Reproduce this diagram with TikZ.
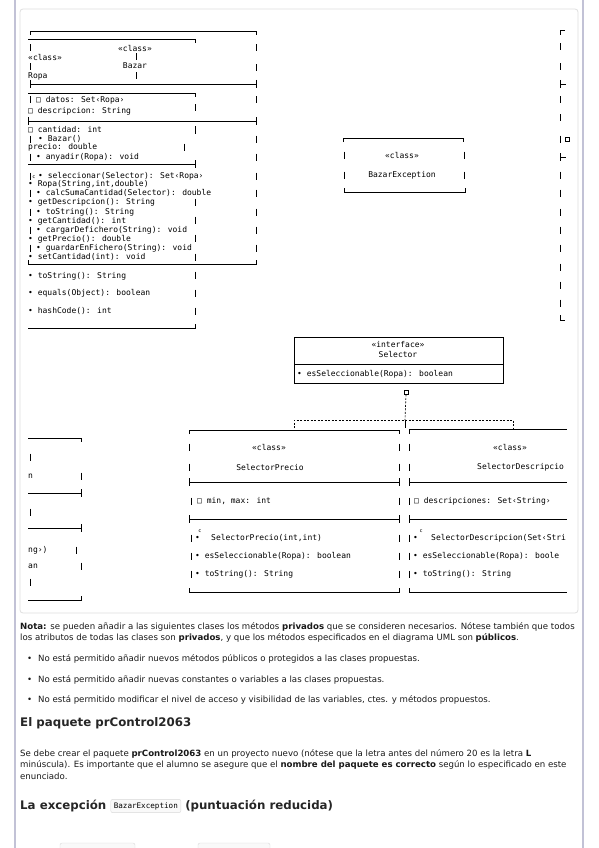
\documentclass[tikz,border=0pt]{standalone}
\usepackage{fontspec}
\setmainfont{DejaVu Sans}
\newfontfamily\umlfont{DejaVu Sans Mono}
\newcommand\vt[2]{\draw[ln] (#1,#2-3.5) -- (#1,#2+3.5);}
\begin{document}
\begin{tikzpicture}[x=1pt,y=-1pt,
  ln/.style={line width=0.65pt, draw=black},
  u/.style={font=\umlfont\fontsize{8}{9}\selectfont, inner sep=0pt, anchor=west, text=black},
  uc/.style={u, anchor=center},
  csup/.style={font=\umlfont\fontsize{5}{6}\selectfont, inner sep=0pt, text=black},
  body/.style={font=\fontsize{8.6}{10}\selectfont, inner sep=0pt, anchor=west, text=black!90},
  head/.style={font=\bfseries\fontsize{11.8}{14}\selectfont, inner sep=0pt, anchor=west, text=black!85},
  pagebar/.style={draw=blue!20!gray!40, line width=1.5pt},
  panel/.style={draw=gray!25, line width=0.8pt, rounded corners=3pt},
  codebox/.style={draw=gray!30, rounded corners=2pt, fill=gray!5, inner sep=3pt, font=\umlfont\fontsize{7.6}{8}\selectfont}]
\useasboundingbox (0,0) rectangle (599,848);
\fill[white] (0,0) rectangle (599,848);
% page bars and panel
\draw[pagebar] (15,0) -- (15,848);
\draw[pagebar] (583,0) -- (583,848);
\draw[panel] (20,9) rectangle (578,613);

% ===== top-left Bazar / Ropa fragments =====
\draw[ln] (30,35) -- (30,31) -- (256,31) -- (256,35);
\draw[ln] (28,39) -- (195,39) -- (195,43);
\node[uc] (bzst) at (135,48) {«class»};
\node[u] (ropast) at (28,57) {«class»};
\node[uc] (bzname) at (135,66) {Bazar};
\node[u] (ropaname) at (28,76) {Ropa};
\vt{30}{48} \vt{30}{67} \vt{136}{57} \vt{136}{76}
\vt{256}{48} \vt{256}{68}
\draw[ln] (30,80) -- (30,88); \draw[ln] (30,84) -- (256,84); \draw[ln] (256,80) -- (256,88);
\draw[ln] (28,93) -- (195,93) -- (195,97);
\vt{30}{100}
\node[u] (a1) at (36,100) {□ datos: Set‹Ropa›};
\vt{256}{100}
\node[u] (a2) at (28,111) {□ descripcion: String};
\vt{195}{108}
\draw[ln] (28,117) -- (28,125); \draw[ln] (28,121) -- (256,121); \draw[ln] (256,117) -- (256,125);
\node[u] (a3) at (28,130) {□ cantidad: int};
\vt{195}{130}
\vt{30}{139}
\node[u] (m1) at (38,139) {•  Bazar()};
\vt{256}{139}
\node[u] (a4) at (28,147) {precio: double};
\vt{184}{147}
\vt{30}{157}
\node[u] (m2) at (36,157) {• anyadir(Ropa): void};
\vt{256}{157}
\draw[ln] (28,164) -- (195,164); \draw[ln] (195,160) -- (195,168);
\vt{30}{176}
\node[csup] (c1) at (34,177) {c};
\node[u] (m3) at (38,176) {• seleccionar(Selector): Set‹Ropa›};
\vt{256}{176}
\node[u] (m4) at (28,184) {•  Ropa(String,int,double)};
\vt{30}{193}
\node[u] (m5) at (36,193) {• calcSumaCantidad(Selector): double};
\vt{256}{193}
\node[u] (m6) at (28,202) {• getDescripcion(): String};
\vt{195}{202}
\vt{30}{212}
\node[u] (m7) at (36,212) {• toString(): String};
\vt{256}{212}
\node[u] (m8) at (28,221) {• getCantidad(): int};
\vt{195}{220}
\vt{30}{230}
\node[u] (m9) at (36,230) {• cargarDefichero(String): void};
\vt{256}{230}
\node[u] (m10) at (28,239) {• getPrecio(): double};
\vt{195}{238}
\vt{30}{248}
\node[u] (m11) at (36,248) {• guardarEnFichero(String): void};
\vt{256}{248}
\node[u] (m12) at (28,257) {• setCantidad(int): void};
\vt{195}{257}
\draw[ln] (28,260) -- (28,264) -- (256,264) -- (256,260);
\node[u] (m13) at (28,276) {• toString(): String};
\vt{195}{275}
\node[u] (m14) at (28,293) {• equals(Object): boolean};
\vt{195}{293}
\node[u] (m15) at (28,311) {• hashCode(): int};
\vt{195}{311}
\draw[ln] (28,328) -- (195,328) -- (195,324);

% ===== right bracket column =====
\draw[ln] (560,35) -- (560,30) -- (565,30);
\vt{560}{47} \vt{560}{67}
\draw[ln] (560,80) -- (560,88); \draw[ln] (560,84) -- (566,84);
\vt{560}{100} \vt{560}{118} \vt{560}{139}
\node[draw, line width=0.6pt, minimum size=4pt, inner sep=0pt] (rsq) at (567,139) {};
\draw[ln] (560,153) -- (560,161); \draw[ln] (560,157) -- (566,157);
\vt{560}{175} \vt{560}{193} \vt{560}{212} \vt{560}{230} \vt{560}{248}
\vt{560}{267} \vt{560}{285} \vt{560}{303}
\draw[ln] (560,315) -- (560,320) -- (565,320);

% ===== BazarException =====
\draw[ln] (343,142) -- (343,138) -- (463,138) -- (463,142);
\vt{344}{155} \vt{344}{175} \vt{464}{155} \vt{464}{175}
\node[uc] (bexst) at (402,155) {«class»};
\node[uc] (bexname) at (402,175) {BazarException};
\draw[ln] (344,188) -- (344,192) -- (465,192) -- (465,188);

% ===== Selector interface =====
\node[draw, line width=0.65pt, minimum width=209pt, minimum height=46pt, anchor=north west, inner sep=0pt] (sel) at (294,337) {};
\draw[ln] (294,364) -- (503,364);
\node[uc] (selst) at (398,345) {«interface»};
\node[uc] (selname) at (398,354) {Selector};
\node[u] (selm) at (297,374) {• esSeleccionable(Ropa): boolean};
\node[draw, line width=0.6pt, minimum size=4pt, inner sep=0pt] (lolli) at (406,392) {};
\coordinate (junc) at (405,420);
\draw[ln, dash pattern=on 2pt off 1.5pt] (lolli.south) -- (junc);
\draw[ln, dash pattern=on 2pt off 1.5pt] (294,428) -- (294,420) -- (513,420) -- (513,428);
\draw[ln] (junc) -- (405,428);

% ===== SelectorPrecio =====
\draw[ln] (189,434) -- (189,430) -- (399,430) -- (399,434);
\vt{189}{447} \vt{189}{467} \vt{399}{447} \vt{399}{467}
\node[uc] (spst) at (269,447) {«class»};
\node[uc] (spname) at (270,467) {SelectorPrecio};
\draw[ln] (189,478) -- (189,486); \draw[ln] (189,482) -- (399,482); \draw[ln] (399,478) -- (399,486);
\vt{191}{501}
\node[u] (spa) at (197,501) {□ min, max: int};
\vt{399}{501}
\draw[ln] (189,515) -- (189,523); \draw[ln] (189,519) -- (399,519); \draw[ln] (399,515) -- (399,523);
\vt{191}{538}
\node[u] (spb) at (195,538) {•};
\node[csup] (spc) at (200,531) {c};
\node[u] (spm1) at (211,538) {SelectorPrecio(int,int)};
\vt{191}{556}
\node[u] (spm2) at (195,556) {• esSeleccionable(Ropa): boolean};
\vt{191}{574}
\node[u] (spm3) at (195,574) {• toString(): String};
\vt{399}{538} \vt{399}{556} \vt{399}{574}
\draw[ln] (189,588) -- (189,592) -- (399,592) -- (399,588);

% ===== SelectorDescripcion (cut off) =====
\draw[ln] (409,434) -- (409,429) -- (567,429);
\vt{409}{447} \vt{409}{467}
\node[uc] (sdst) at (510,447) {«class»};
\node[u] (sdname) at (477,467) {SelectorDescripcio};
\draw[ln] (409,478) -- (409,486); \draw[ln] (409,482) -- (567,482);
\vt{409}{501}
\node[u] (sda) at (414,501) {□ descripciones: Set‹String›};
\draw[ln] (409,515) -- (409,523); \draw[ln] (409,519) -- (567,519);
\vt{409}{538}
\node[u] (sdb) at (413,538) {•};
\node[csup] (sdc) at (421,531) {c};
\node[u] (sdm1) at (431,538) {SelectorDescripcion(Set‹Stri};
\vt{409}{556}
\node[u] (sdm2) at (413,556) {• esSeleccionable(Ropa): boole};
\vt{409}{574}
\node[u] (sdm3) at (413,574) {• toString(): String};
\draw[ln] (409,588) -- (409,592) -- (567,592);

% ===== bottom-left fragments =====
\draw[ln] (28,438) -- (81,438) -- (81,442);
\vt{30}{457}
\node[u] (f1) at (28,476) {n};
\vt{81}{476}
\draw[ln] (28,493) -- (81,493); \draw[ln] (81,489) -- (81,497);
\vt{30}{512}
\draw[ln] (28,528) -- (81,528); \draw[ln] (81,524) -- (81,532);
\node[u] (f2) at (28,550) {ng›)};
\vt{76}{550}
\node[u] (f3) at (28,566) {an};
\vt{81}{566}
\vt{30}{582}
\draw[ln] (28,600) -- (81,600) -- (81,596);

% ===== text below =====
\node[body] (n1) at (20,627) {\textbf{Nota:} se pueden añadir a las siguientes clases los métodos \textbf{privados} que se consideren necesarios. Nótese también que todos};
\node[body] (n2) at (20,638) {los atributos de todas las clases son \textbf{privados}, y que los métodos especificados en el diagrama UML son \textbf{públicos}.};
\node[body] (b1d) at (27,659) {•};
\node[body] (b1) at (38,659) {No está permitido añadir nuevos métodos públicos o protegidos a las clases propuestas.};
\node[body] (b2d) at (27,680) {•};
\node[body] (b2) at (38,680) {No está permitido añadir nuevas constantes o variables a las clases propuestas.};
\node[body] (b3d) at (27,700) {•};
\node[body] (b3) at (38,700) {No está permitido modificar el nivel de acceso y visibilidad de las variables, ctes. y métodos propuestos.};
\node[head] (h1) at (20,723) {El paquete prControl2063};
\node[body] (p1) at (20,754) {Se debe crear el paquete \textbf{prControl2063} en un proyecto nuevo (nótese que la letra antes del número 20 es la letra \textbf{L}};
\node[body] (p2) at (20,765) {minúscula). Es importante que el alumno se asegure que el \textbf{nombre del paquete es correcto} según lo especificado en este};
\node[body] (p3) at (20,776) {enunciado.};
\node[head] (h2a) at (20,806) {La excepción};
\node[codebox, anchor=west] (h2b) at ([xshift=4pt]h2a.east) {BazarException};
\node[head] (h2c) at ([xshift=4pt]h2b.east) {(puntuación reducida)};
\draw[draw=gray!30, rounded corners=2pt, fill=gray!5] (60,860) -- (60,843) -- (135,843) -- (135,860);
\draw[draw=gray!30, rounded corners=2pt, fill=gray!5] (198,860) -- (198,843) -- (270,843) -- (270,860);
\end{tikzpicture}
\end{document}
